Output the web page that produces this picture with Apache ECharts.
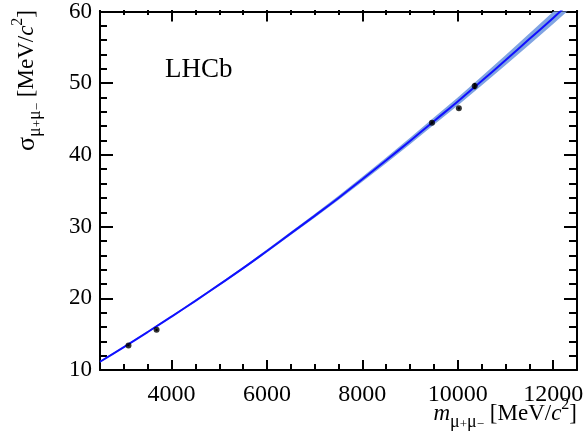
<!DOCTYPE html>
<html>
<head>
<meta charset="utf-8">
<script src="https://cdn.jsdelivr.net/npm/echarts@6/dist/echarts.min.js"></script>
<style>
html,body{margin:0;padding:0;background:#fff;}
#chart{width:587px;height:444px;}
</style>
</head>
<body>
<div id="chart"></div>
<script>
// ---- data ----
const fitMass   = [2500,3000,3500,4000,4500,5000,5500,6000,6500,7000,7500,8000,8500,9000,9500,10000,10500,11000,11500,12000,12500];
const fitSigma  = [11.15,13.2,15.3,17.45,19.65,21.9,24.2,26.6,29.05,31.5,34.0,36.6,39.25,41.95,44.7,47.45,50.3,53.2,56.15,59.1,62.2];
const fitErr    = [0.10,0.10,0.11,0.12,0.14,0.16,0.18,0.20,0.23,0.27,0.30,0.35,0.40,0.45,0.50,0.56,0.62,0.70,0.78,0.86,0.95];

const pointMass  = [3097,3686,9460,10023,10355];
const pointSigma = [13.4,15.6,44.5,46.5,49.6];
const pointErr   = [0.10,0.15,0.15,0.15,0.45];

const xMajorTicks = [4000,6000,8000,10000,12000];
const yTicks = [10,20,30,40,50,60];

// ---- build series data ----
const fitLine   = fitMass.map((m,i)=>[m, fitSigma[i]]);
const points    = pointMass.map((m,i)=>[m, pointSigma[i]]);
const errBars   = pointMass.map((m,i)=>[m, pointSigma[i]-pointErr[i], pointSigma[i]+pointErr[i]]);

const FONT = "'Liberation Serif', 'Times New Roman', Times, serif";
const gridRect = {left:100, top:10, right:10, bottom:74};

function majorX(pos, labels){
  return {
    type:'value', gridIndex:0, position:pos, min:2500, max:12500,
    axisLine:{show:true, onZero:false, lineStyle:{color:'#000', width:2}},
    axisTick:{show:true, inside:true, length:10, customValues:xMajorTicks, lineStyle:{color:'#000', width:2}},
    axisLabel:{show:labels, customValues:xMajorTicks, margin:13, fontSize:24, color:'#000', fontFamily:FONT,
               formatter:function(v){return String(v);}},
    splitLine:{show:false}
  };
}
function minorX(pos){
  return {
    type:'value', gridIndex:1, position:pos, min:2500, max:12500, interval:500,
    axisLine:{show:false, onZero:false},
    axisTick:{show:true, inside:true, length:pos==='top'?5:6, lineStyle:{color:'#000', width:2}},
    axisLabel:{show:false},
    splitLine:{show:false}
  };
}
function yAx(pos, labels){
  return {
    type:'value', gridIndex:0, position:pos, min:10, max:60, interval:10,
    axisLine:{show:true, onZero:false, lineStyle:{color:'#000', width:2}},
    axisTick:{show:true, inside:true, length:13, lineStyle:{color:'#000', width:2}},
    minorTick:{show:true, splitNumber:5, length:pos==='right'?8:7, lineStyle:{color:'#000', width:2}},
    axisLabel:{show:labels, margin:8, fontSize:23, color:'#000', fontFamily:FONT,
               formatter:function(v){return String(v);}},
    splitLine:{show:false}, minorSplitLine:{show:false}
  };
}

const mainStyle = {fontFamily:FONT, fontSize:23, color:'#000', lineHeight:34, verticalAlign:'middle'};
const rich = {
  n:  Object.assign({}, mainStyle),
  big:Object.assign({}, mainStyle, {fontSize:26}),
  it: Object.assign({}, mainStyle, {fontStyle:'italic'}),
  sub:{fontFamily:FONT, fontSize:18, color:'#000', lineHeight:18, verticalAlign:'bottom'},
  ss: {fontFamily:FONT, fontSize:13, color:'#000', lineHeight:27, verticalAlign:'bottom'},
  sup:{fontFamily:FONT, fontSize:16, color:'#000', lineHeight:18, verticalAlign:'top'}
};

const chart = echarts.init(document.getElementById('chart'), null, {renderer:'canvas'});
chart.setOption({
  animation:false,
  backgroundColor:'#fff',
  grid:[Object.assign({}, gridRect), Object.assign({}, gridRect)],
  xAxis:[majorX('bottom', true), majorX('top', false), minorX('bottom'), minorX('top')],
  yAxis:[yAx('left', true), yAx('right', false),
         {type:'value', gridIndex:1, min:10, max:60, show:false}],
  series:[
    {type:'custom', name:'band', data:[0], clip:true, silent:true, z:1,
     renderItem:function(params, api){
       const pts = [];
       for (let i=0;i<fitMass.length;i++) pts.push(api.coord([fitMass[i], fitSigma[i]+fitErr[i]]));
       for (let i=fitMass.length-1;i>=0;i--) pts.push(api.coord([fitMass[i], fitSigma[i]-fitErr[i]]));
       return {type:'polygon', shape:{points:pts, smooth:0}, style:{fill:'#80a4e2', stroke:null}};
     }},
    {type:'line', name:'fit', data:fitLine, symbol:'none', smooth:true, z:3,
     lineStyle:{color:'#1010ff', width:2}, clip:true},
    {type:'custom', name:'err', data:errBars, z:4,
     renderItem:function(params, api){
       const p1 = api.coord([api.value(0), api.value(1)]);
       const p2 = api.coord([api.value(0), api.value(2)]);
       return {type:'line', shape:{x1:p1[0], y1:p1[1], x2:p2[0], y2:p2[1]},
               style:{stroke:'#000', lineWidth:2}};
     }},
    {type:'scatter', name:'points', data:points, symbol:'circle', symbolSize:6, z:5,
     itemStyle:{color:'#000'}}
  ],
  graphic:[
    {type:'text', x:165, y:70,
     style:{text:'LHCb', fontFamily:FONT, fontSize:27, fill:'#000', align:'left', verticalAlign:'middle'}},
    {type:'text', x:577, y:414,
     style:{text:'{it|m}{sub|μ}{ss|+}{sub|μ}{ss|−}{n| [MeV/}{it|c}{sup|2}{n|]}',
            rich:rich, align:'right', verticalAlign:'middle'}},
    {type:'text', x:27, y:10, rotation:Math.PI/2,
     style:{text:'{big|σ}{sub|μ}{ss|+}{sub|μ}{ss|−}{n| [MeV/}{it|c}{sup|2}{n|]}',
            rich:rich, align:'right', verticalAlign:'middle'}}
  ]
});
</script>
</body>
</html>
